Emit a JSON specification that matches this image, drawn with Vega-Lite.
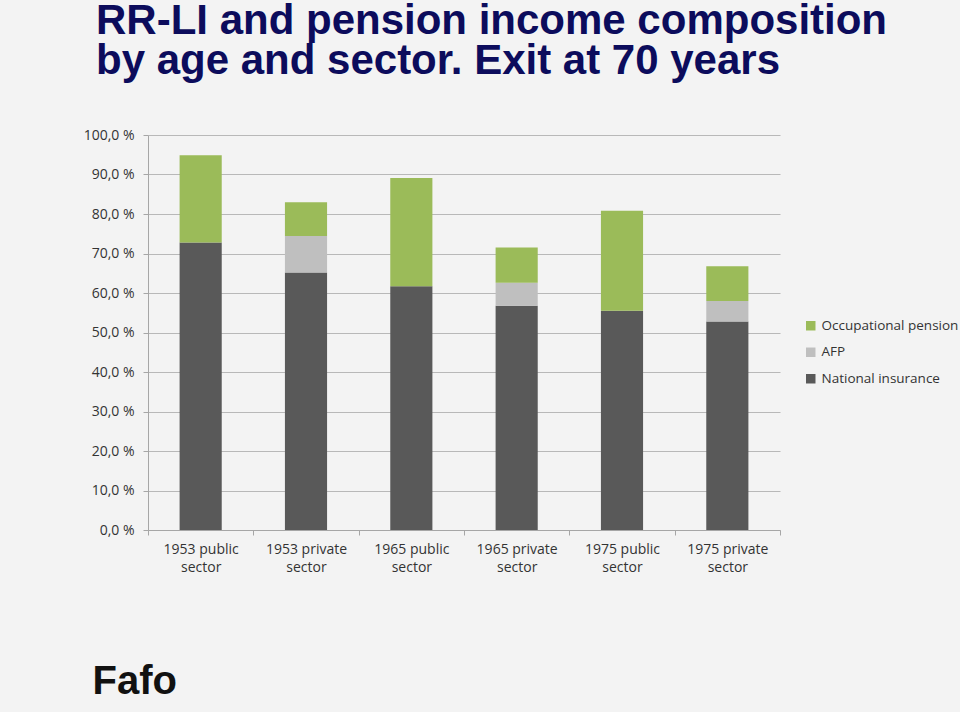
{
  "$schema": "https://vega.github.io/schema/vega-lite/v6.json",
  "width": 632,
  "height": 395,
  "autosize": "none",
  "padding": {"left": 148, "top": 135, "right": 180, "bottom": 182},
  "background": "#f3f3f3",
  "title": {
    "text": ["RR-LI and pension income composition", "by age and sector. Exit at 70 years"],
    "font": "Liberation Sans",
    "fontWeight": "bold",
    "fontSize": 42,
    "lineHeight": 40,
    "color": "#0c0c5c",
    "anchor": "start",
    "frame": "group",
    "dx": -52,
    "offset": 45
  },
  "data": {
    "values": [
      {"cat": "1953 public sector", "comp": "National insurance", "ord": 1, "value": 72.8},
      {"cat": "1953 public sector", "comp": "AFP", "ord": 2, "value": 0},
      {"cat": "1953 public sector", "comp": "Occupational pension", "ord": 3, "value": 22.1},
      {"cat": "1953 private sector", "comp": "National insurance", "ord": 1, "value": 65.2},
      {"cat": "1953 private sector", "comp": "AFP", "ord": 2, "value": 9.2},
      {"cat": "1953 private sector", "comp": "Occupational pension", "ord": 3, "value": 8.6},
      {"cat": "1965 public sector", "comp": "National insurance", "ord": 1, "value": 61.7},
      {"cat": "1965 public sector", "comp": "AFP", "ord": 2, "value": 0},
      {"cat": "1965 public sector", "comp": "Occupational pension", "ord": 3, "value": 27.4},
      {"cat": "1965 private sector", "comp": "National insurance", "ord": 1, "value": 56.8},
      {"cat": "1965 private sector", "comp": "AFP", "ord": 2, "value": 5.8},
      {"cat": "1965 private sector", "comp": "Occupational pension", "ord": 3, "value": 8.9},
      {"cat": "1975 public sector", "comp": "National insurance", "ord": 1, "value": 55.5},
      {"cat": "1975 public sector", "comp": "AFP", "ord": 2, "value": 0},
      {"cat": "1975 public sector", "comp": "Occupational pension", "ord": 3, "value": 25.3},
      {"cat": "1975 private sector", "comp": "National insurance", "ord": 1, "value": 52.8},
      {"cat": "1975 private sector", "comp": "AFP", "ord": 2, "value": 5.2},
      {"cat": "1975 private sector", "comp": "Occupational pension", "ord": 3, "value": 8.8}
    ]
  },
  "mark": {"type": "bar", "width": {"band": 0.4}},
  "encoding": {
    "x": {
      "field": "cat",
      "type": "nominal",
      "sort": null,
      "scale": {"paddingInner": 0, "paddingOuter": 0},
      "axis": {
        "title": "Fafo",
        "titleFont": "Liberation Sans",
        "titleFontWeight": "bold",
        "titleFontSize": 40,
        "titleColor": "#111111",
        "titleAlign": "left",
        "titleAnchor": "start",
        "titleX": -56,
        "titleY": 163,
        "titleBaseline": "alphabetic",
        "labelAngle": 0,
        "labelExpr": "split(replace(datum.label, ' sector', '|sector'), '|')",
        "labelFont": "Open Sans",
        "labelFontSize": 14,
        "labelColor": "#333333",
        "labelLineHeight": 18,
        "labelPadding": 7,
        "tickBand": "extent",
        "tickSize": 5,
        "tickColor": "#a6a6a6",
        "domainColor": "#a6a6a6",
        "grid": false
      }
    },
    "y": {
      "field": "value",
      "type": "quantitative",
      "stack": "zero",
      "scale": {"domain": [0, 100], "nice": false},
      "axis": {
        "title": null,
        "values": [0, 10, 20, 30, 40, 50, 60, 70, 80, 90, 100],
        "labelExpr": "replace(format(datum.value, '.1f'), '.', ',') + ' %'",
        "labelFont": "Open Sans",
        "labelFontSize": 14,
        "labelColor": "#333333",
        "labelPadding": 9,
        "tickSize": 5,
        "tickColor": "#a6a6a6",
        "domainColor": "#a6a6a6",
        "grid": true,
        "gridColor": "#b8b8b8",
        "gridWidth": 1.2
      }
    },
    "color": {
      "field": "comp",
      "type": "nominal",
      "scale": {
        "domain": ["Occupational pension", "AFP", "National insurance"],
        "range": ["#9bbb59", "#bfbfbf", "#595959"]
      },
      "legend": {
        "title": null,
        "orient": "none",
        "legendX": 656,
        "legendY": 184,
        "symbolType": "square",
        "symbolSize": 90,
        "symbolStrokeWidth": 0,
        "labelFont": "Open Sans",
        "labelFontSize": 13.5,
        "labelColor": "#333333",
        "labelOffset": 4,
        "rowPadding": 11.5
      }
    },
    "order": {"field": "ord", "type": "quantitative"}
  },
  "config": {"view": {"stroke": null}}
}
